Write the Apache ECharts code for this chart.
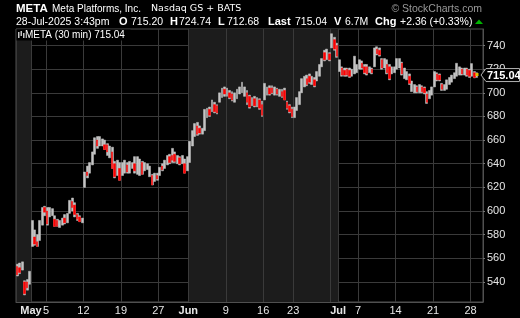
<!DOCTYPE html>
<html><head><meta charset="utf-8">
<script src="https://cdn.jsdelivr.net/npm/echarts@6/dist/echarts.min.js"></script>
<style>html,body{margin:0;padding:0;background:#000;}#c{width:520px;height:318px;}</style>
</head><body><div id="c"></div>
<script>
// ---- data (30-min bars aggregated into ~3 slots per trading day) ----
const days = ['Apr 29','Apr 30','May 1','May 2','May 5','May 6','May 7','May 8','May 9','May 12','May 13','May 14','May 15','May 16','May 19','May 20','May 21','May 22','May 23','May 27','May 28','May 29','May 30','Jun 2','Jun 3','Jun 4','Jun 5','Jun 6','Jun 9','Jun 10','Jun 11','Jun 12','Jun 13','Jun 16','Jun 17','Jun 18','Jun 20','Jun 23','Jun 24','Jun 25','Jun 26','Jun 27','Jun 30','Jul 1','Jul 2','Jul 3','Jul 7','Jul 8','Jul 9','Jul 10','Jul 11','Jul 14','Jul 15','Jul 16','Jul 17','Jul 18','Jul 21','Jul 22','Jul 23','Jul 24','Jul 25','Jul 28'];
const highs = [[555,556,557],[541,542,549],[592,584,580],[592,603,604],[603,603,602],[596,593,592],[594,597,598],[609,611,607],[598,596,594],
[633,638,641],[650,662,663],[663,661,660],[657,655,654],[642,643,641],
[641,643,641],[642,641,646],[646,644,642],[641,640,638],[631,632,632],
[637,640,643],[647,648,653],[650,647,646],[647,644,646],
[659,668,674],[675,672,670],[686,687,688],[694,692,690],[700,704,705],
[704,702,701],[700,703,705],[709,705,702],[698,696,697],[696,695,693],
[708,705,706],[706,705,704],[703,703,704],[693,690,688],
[688,696,701],[712,714,715],[716,714,713],[718,724,729],[736,737,734],
[750,747,742],[728,722,721],[721,721,720],[731,724],
[728,727,724],[724,722,721],[738,739,738],[729,729,728],[724,722,722],
[729,729,726],[721,718,716],[710,707,706],[707,706,705],[701,702,705],
[718,717,716],[708,707,711],[713,715,717],[725,722,721],[721,721,720],
[724.74,718,717]];
const lows = [[545,547,550],[529,533,538],[570,571,570],[575,588,596],[588,595,596],[587,587,586],[588,589,590],[598,600,595],[592,591,590],
[620,628,632],[639,648,653],[655,655,652],[647,645,636],[628,630,626],
[630,632,632],[632,636,632],[631,630,631],[634,635,629],[622,625,626],
[630,634,636],[639,640,641],[641,640,639],[640,632,634],
[641,655,663],[664,665,665],[668,679,680],[684,683,682],[692,696,697],
[697,695,693],[692,695,699],[700,697,690],[687,689,688],[688,686,680],
[694,698,698],[699,698,698],[697,696,694],[686,683,679],
[679,685,690],[700,705,706],[708,707,705],[710,714,722],[727,728,727],
[738,736,730],[718,714,714],[714,713,714],[716,717],
[720,720,716],[715,717,716],[722,732,731],[720,721,716],[711,716,717],
[720,721,715],[712,711,707],[701,700,700],[700,700,699],[691,695,698],
[705,710,710],[702,702,703],[707,709,712],[714,715,715],[715,714,713],
[714,712.68,713]];
const downTops = [[553,552,null],[540,540,null],[null,578,574],[null,null,603],[600,null,null],[593,592,null],[null,594,null],[null,608,605],[597,595,null],
[null,633,null],[null,null,660],[null,null,656],[656,null,650],[640,null,636],
[null,null,639],[null,null,640],[null,null,641],[null,null,null],[630,null,630],
[null,638,null],[null,646,647],[648,null,645],[null,640,null],
[null,null,null],[672,670,null],[null,null,686],[null,690,689],[null,null,703],
[null,700,699],[null,null,null],[null,null,700],[697,null,695],[null,694,690],
[null,null,704],[704,null,703],[null,701,702],[692,689,686],
[null,null,null],[null,null,712],[714,null,711],[null,null,null],[734,null,733],
[null,745,740],[null,721,719],[720,719,null],[null,null],
[null,725,722],[722,null,720],[null,737,736],[728,null,724],[722,null,null],
[null,null,725],[null,null,714],[null,null,705],[null,705,704],[699,null,null],
[null,716,715],[707,null,null],[null,null,null],[null,null,720],[null,720,719],
[null,717,null]];
const downBottoms = [[546,548,null],[530,535,null],[null,572,570],[null,null,599],[589,null,null],[587,587,null],[null,590,null],[null,603,597],[593,591,null],
[null,630,null],[null,null,655],[null,null,652],[650,null,636],[629,null,626],
[null,null,633],[null,null,634],[null,null,631],[null,null,null],[622,null,627],
[null,635,null],[null,641,643],[642,null,640],[null,632,null],
[null,null,null],[665,666,null],[null,null,681],[null,684,683],[null,null,699],
[null,696,694],[null,null,null],[null,null,692],[688,null,689],[null,687,681],
[null,null,699],[700,null,699],[null,697,694],[687,684,680],
[null,null,null],[null,null,707],[709,null,706],[null,null,null],[728,null,728],
[null,737,731],[null,715,715],[715,714,null],[null,null],
[null,721,717],[716,null,717],[null,733,732],[721,null,717],[712,null,null],
[null,null,716],[null,null,708],[null,null,701],[null,701,700],[692,null,null],
[null,711,711],[703,null,null],[null,null,null],[null,null,716],[null,715,714],
[null,713,null]];
const yTicks = [540,560,580,600,620,640,660,680,700,720,740];
const labelDays = ['May 1','May 5','May 12','May 19','May 27','Jun 2','Jun 9','Jun 16','Jun 23','Jul 1','Jul 7','Jul 14','Jul 21','Jul 28'];
const labelTexts = ['May','5','12','19','27','Jun','9','16','23','Jul','7','14','21','28'];
const monthLabels = ['May','Jun','Jul'];
const gridDays = ['Apr 29','May 1','May 5','May 12','May 19','May 27','Jun 2','Jun 9','Jun 16','Jun 23','Jun 30','Jul 1','Jul 7','Jul 14','Jul 21','Jul 28'];
const shadeDays = ['Apr 29','May 1','Jun 2','Jul 1'];
const lastPrice = 715.04;
const header = {sym:'META', name:'Meta Platforms, Inc.', exch:'Nasdaq GS + BATS', stamp:'28-Jul-2025 3:43pm',
  open:'715.20', high:'724.74', low:'712.68', last:'715.04', vol:'6.7M', chg:'+2.36 (+0.33%)'};

// ---- build slot categories ----
const cats = [], grayData = [], redData = [];
days.forEach((d, i) => {
  highs[i].forEach((h, k) => {
    const idx = cats.length;
    cats.push(d + '|' + k);
    grayData.push([lows[i][k], h, lows[i][k], h]);
    if (downTops[i][k] != null) redData.push([idx, downTops[i][k], downBottoms[i][k], downBottoms[i][k], downTops[i][k]]);
  });
});
cats.push('pad|0', 'pad|1');

const dayOf = v => v.split('|')[0];
const firstSlot = v => v.split('|')[1] === '0';
const isIn = list => (idx, v) => firstSlot(v) && list.indexOf(dayOf(v)) >= 0;

const chart = echarts.init(document.getElementById('c'), null, {renderer: 'canvas'});
const GRAY = '#c4c4c4', RED = '#ff0000', GRID = '#3a3a3a', FRAME = '#505050';
const F = 'Arial, "Liberation Sans", sans-serif';

chart.setOption({
  backgroundColor: '#000',
  animation: false,
  grid: {left: 16, right: 37, top: 29, bottom: 16, show: true, borderColor: FRAME, borderWidth: 1, backgroundColor: 'transparent'},
  xAxis: {
    type: 'category', data: cats, boundaryGap: true,
    axisLine: {show: true, lineStyle: {color: FRAME}},
    axisTick: {show: false},
    axisLabel: {
      interval: isIn(labelDays), color: '#e6e6e6', fontSize: 11, fontFamily: F, margin: 3,
      padding: [0, 2.5, 0, 0],
      formatter: v => { const t = labelTexts[labelDays.indexOf(dayOf(v))]; return monthLabels.indexOf(t) >= 0 ? '{b|' + t + '}' : t; },
      rich: {b: {fontWeight: 'bold', fontSize: 11, fontFamily: F, color: '#e6e6e6'}}
    },
    splitLine: {show: true, interval: isIn(gridDays), lineStyle: {color: GRID, width: 1}},
    splitArea: {show: true, interval: isIn(shadeDays), areaStyle: {color: ['#1c1c1c', 'rgba(0,0,0,0)']}}
  },
  yAxis: {
    type: 'value', position: 'right', min: 523, max: 754, scale: true,
    axisLine: {show: true, lineStyle: {color: FRAME}},
    axisTick: {show: true, length: 2, customValues: yTicks, lineStyle: {color: '#777'}},
    axisLabel: {customValues: yTicks, color: '#e6e6e6', fontSize: 11, fontFamily: F, margin: 4},
    splitLine: {show: true, lineStyle: {color: GRID, width: 1}}
  },
  series: [
    {type: 'candlestick', name: 'META', data: grayData, barWidth: 2.4, z: 3,
     itemStyle: {color: GRAY, color0: GRAY, borderColor: GRAY, borderColor0: GRAY, borderWidth: 0.5}},
    {type: 'candlestick', name: 'down', data: redData, barWidth: 2, z: 4,
     dimensions: ['idx', 'open', 'close', 'lowest', 'highest'],
     encode: {x: 'idx', y: ['open', 'close', 'lowest', 'highest']},
     itemStyle: {color: RED, color0: RED, borderColor: RED, borderColor0: RED, borderWidth: 0.5}}
  ]
});

const yc = chart.convertToPixel({yAxisIndex: 0}, lastPrice);
const t = (text, x, y, font, fill, extra) => Object.assign({type: 'text', z: 100, style: Object.assign({text, x, y, font, fill: fill || '#fff', verticalAlign: 'middle'}, extra || {})});
const R1 = 9, R2 = 21.8;
chart.setOption({
  graphic: [
    t(header.sym, 16, R1, 'bold 11.5px ' + F),
    t(header.name, 52, R1, '10px ' + F),
    t(header.exch, 151, R1, '9.5px "DejaVu Sans", sans-serif'),
    t('\u00a9 StockCharts.com', 482, R1, '10.5px ' + F, '#9a9a9a', {align: 'right'}),
    t(header.stamp, 16, R2, '10.5px ' + F),
    t('O', 119, R2, 'bold 11px ' + F), t(header.open, 131, R2, '10.5px ' + F),
    t('H', 170, R2, 'bold 11px ' + F), t(header.high, 179, R2, '10.5px ' + F),
    t('L', 218, R2, 'bold 11px ' + F), t(header.low, 227, R2, '10.5px ' + F),
    t('Last', 268, R2, 'bold 11px ' + F), t(header.last, 295, R2, '10.5px ' + F),
    t('V', 334, R2, 'bold 11px ' + F), t(header.vol, 345, R2, '10.5px ' + F),
    t('Chg', 375, R2, 'bold 11px ' + F), t(header.chg, 400, R2, '10.5px ' + F),
    {type: 'polygon', z: 100, shape: {points: [[475, 24], [483, 24], [479, 19.5]]}, style: {fill: '#00b400'}},
    // legend box
    {type: 'rect', z: 90, shape: {x: 16.5, y: 29.5, width: 114, height: 11}, style: {fill: '#000'}},
    {type: 'rect', z: 100, shape: {x: 18, y: 32, width: 1.5, height: 6}, style: {fill: GRAY}},
    {type: 'rect', z: 100, shape: {x: 20.5, y: 31, width: 1.5, height: 5}, style: {fill: GRAY}},
    {type: 'rect', z: 100, shape: {x: 23, y: 33, width: 1.5, height: 5}, style: {fill: GRAY}},
    t('META (30 min) ' + header.last, 25, 35, '10px ' + F),
    // last price tag
    {type: 'polygon', z: 100, shape: {points: [[481, yc], [486, yc - 6.5], [519.5, yc - 6.5], [519.5, yc + 6.5], [486, yc + 6.5]]},
     style: {fill: '#000', stroke: '#b0b0b0', lineWidth: 1}},
    t(lastPrice.toFixed(2), 487, yc + 0.5, 'bold 11px ' + F, '#fff'),
    {type: 'rect', z: 101, shape: {x: 475.5, y: yc - 2, width: 3, height: 3}, style: {fill: '#e0c000'}}
  ]
});
</script></body></html>
